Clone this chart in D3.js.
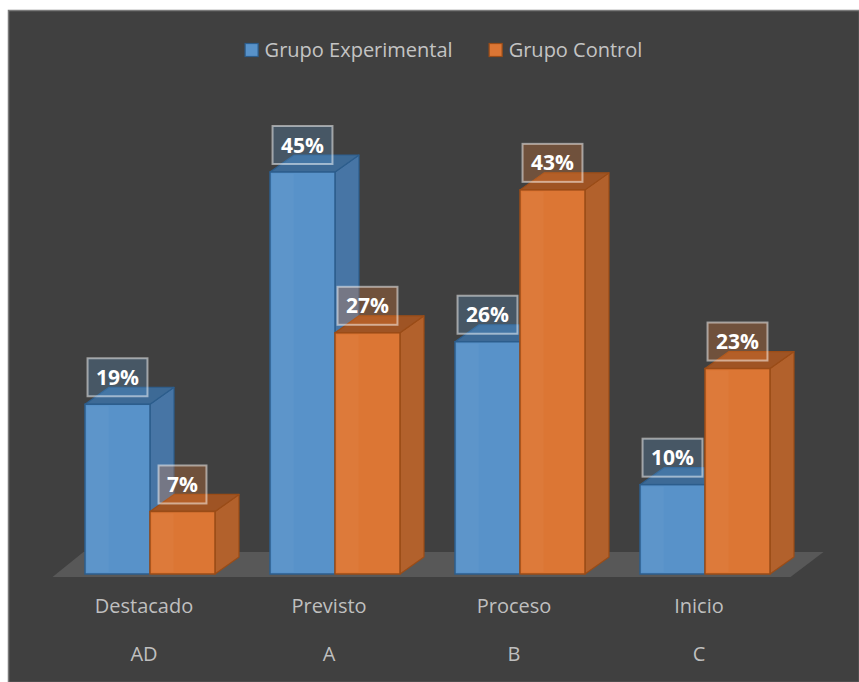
<!DOCTYPE html>
<html>
<head>
<meta charset="utf-8">
<script src="https://cdn.jsdelivr.net/npm/d3@7"></script>
<style>
    body { margin: 0; background: #ffffff; }
    text { font-family: "Open Sans", "Noto Sans", sans-serif; }
</style>
</head>
<body>
<div id="charts"></div>
<script>
// Chart data.
const categories = ["Destacado", "Previsto", "Proceso", "Inicio"];
const levels = ["AD", "A", "B", "C"];
const series_names = ["Grupo Experimental", "Grupo Control"];
const experimental = [19, 45, 26, 10];
const control = [7, 27, 43, 23];

// Face colors for each series: front, side, top, edge.
let palette = [
    { front: "#5892c9", side: "#4775a5", top: "#3d6a96", edge: "#2c5d8c", label: "rgba(91,155,213,0.25)" },
    { front: "#dc7634", side: "#b2612c", top: "#9f5424", edge: "#9a4c17", label: "rgba(237,125,49,0.28)" }
];

let svg_width = 859, svg_height = 682;
let depth = { dx: 24, dy: -17 };

let svg = d3.select("#charts")
    .append("svg")
        .attr("width", svg_width)
        .attr("height", svg_height);

// Fill the background.
svg.append("rect")
    .attr("x", 8.5)
    .attr("y", 10.5)
    .attr("width", svg_width - 8)
    .attr("height", svg_height - 10)
    .attr("fill", "#404040")
    .attr("stroke", "#7a7a7a")
    .attr("stroke-width", 1.5);

// Define scales.
let x_scale = d3.scaleBand()
    .domain(categories)
    .range([57.5, 797.5])
    .paddingInner(55 / 185)
    .paddingOuter(27.5 / 185);
let x_series = d3.scaleBand()
    .domain(series_names)
    .range([0, x_scale.bandwidth()]);
let y_scale = d3.scaleLinear()
    .domain([0, 45])
    .range([574, 172]);

// Draw the floor.
let floor_y = y_scale(0) + 3;
let floor_left = x_scale.range()[0] - 5, floor_right = x_scale.range()[1] - 7;
svg.append("path")
    .attr("d", "M" + floor_left + "," + floor_y +
        "L" + floor_right + "," + floor_y +
        "L" + (floor_right + 33) + "," + (floor_y - 25) +
        "L" + (floor_left + 31) + "," + (floor_y - 25) + "Z")
    .attr("fill", "#585858");

// Build the bar records.
let bars = [];
categories.forEach(function(c, i) {
    bars.push({ cat: c, series: 0, value: experimental[i] });
    bars.push({ cat: c, series: 1, value: control[i] });
});

// Draw the 3D bars.
let bar_groups = svg.selectAll(".bar")
    .data(bars)
    .enter()
    .append("g")
        .attr("class", "bar");

bar_groups.each(function(d) {
    let g = d3.select(this);
    let x0 = x_scale(d.cat) + x_series(series_names[d.series]);
    let x1 = x0 + x_series.bandwidth();
    let y0 = y_scale(0);
    let y1 = y_scale(d.value);
    let col = palette[d.series];

    // Side face.
    g.append("path")
        .attr("d", "M" + x1 + "," + y0 + "L" + (x1 + depth.dx) + "," + (y0 + depth.dy) +
            "L" + (x1 + depth.dx) + "," + (y1 + depth.dy) + "L" + x1 + "," + y1 + "Z")
        .attr("fill", col.side)
        .attr("stroke", col.edge)
        .attr("stroke-width", 1.2)
        .attr("stroke-linejoin", "round");

    // Top face.
    g.append("path")
        .attr("d", "M" + x0 + "," + y1 + "L" + x1 + "," + y1 +
            "L" + (x1 + depth.dx) + "," + (y1 + depth.dy) + "L" + (x0 + depth.dx) + "," + (y1 + depth.dy) + "Z")
        .attr("fill", col.top)
        .attr("stroke", col.edge)
        .attr("stroke-width", 1.2)
        .attr("stroke-linejoin", "round");

    // Front face.
    g.append("rect")
        .attr("x", x0)
        .attr("y", y1)
        .attr("width", x1 - x0)
        .attr("height", y0 - y1)
        .attr("fill", col.front)
        .attr("stroke", col.edge)
        .attr("stroke-width", 1.5);

    // Faint highlight stripe on the front.
    g.append("rect")
        .attr("x", x0 + 2)
        .attr("y", y1 + 2)
        .attr("width", (x1 - x0) / 3)
        .attr("height", Math.max(0, y0 - y1 - 4))
        .attr("fill", "#ffffff")
        .attr("opacity", 0.03);
});

// Add the data labels.
bar_groups.each(function(d) {
    let g = d3.select(this);
    let cx = x_scale(d.cat) + x_series(series_names[d.series]) + x_series.bandwidth() / 2;
    let cy = y_scale(d.value) - 27;

    let box = g.append("rect");
    let label = g.append("text")
        .attr("x", cx)
        .attr("y", cy)
        .attr("dy", "0.36em")
        .style("text-anchor", "middle")
        .style("font-size", "21px")
        .style("font-weight", "bold")
        .attr("fill", "#ffffff")
        .text(d.value + "%");
    let w = label.node().getComputedTextLength() + 17;
    box.attr("x", cx - w / 2)
        .attr("y", cy - 19)
        .attr("width", w)
        .attr("height", 38)
        .attr("fill", palette[d.series].label)
        .attr("stroke", "rgba(255,255,255,0.5)")
        .attr("stroke-width", 2);
});

// Add the X axis.
let x_axis = svg.append("g")
    .attr("class", "x_axis")
    .attr("transform", "translate(-6," + 599 + ")")
    .call(d3.axisBottom(x_scale).tickSize(0).tickPadding(0));
x_axis.select(".domain").remove();
x_axis.selectAll("text")
    .style("font-size", "20px")
    .attr("fill", "#bfbfbf");

// Add the level labels under the categories.
let level_axis = svg.append("g")
    .attr("class", "x_axis")
    .attr("transform", "translate(-6," + 647 + ")")
    .call(d3.axisBottom(x_scale).tickSize(0).tickPadding(0)
        .tickFormat(function(c) { return levels[categories.indexOf(c)]; }));
level_axis.select(".domain").remove();
level_axis.selectAll("text")
    .style("font-size", "20px")
    .attr("fill", "#bfbfbf");

// Add the legend.
let legend = svg.append("g").attr("class", "legend");
let lx = 0;
series_names.forEach(function(name, i) {
    let item = legend.append("g").attr("transform", "translate(" + lx + ",0)");
    item.append("rect")
        .attr("x", 0.5)
        .attr("y", 43.5)
        .attr("width", 13)
        .attr("height", 13)
        .attr("fill", palette[i].front)
        .attr("stroke", palette[i].edge)
        .attr("stroke-width", 1.2);
    let t = item.append("text")
        .attr("x", 20)
        .attr("y", 50)
        .attr("dy", "0.35em")
        .style("font-size", "20px")
        .attr("fill", "#c4c4c4")
        .text(name);
    lx += 20 + t.node().getComputedTextLength() + 36;
});
let legend_width = lx - 36;
legend.attr("transform", "translate(" + (443.5 - legend_width / 2) + ",0)");
</script>
</body>
</html>
